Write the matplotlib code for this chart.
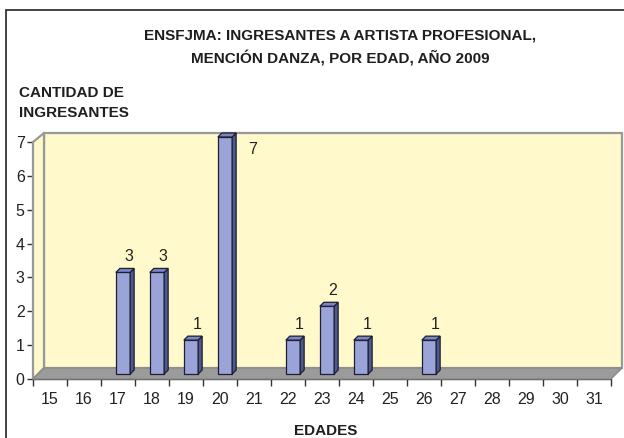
import matplotlib
matplotlib.use("Agg")
import matplotlib.pyplot as plt
from matplotlib.patches import Polygon, Rectangle
from matplotlib.transforms import IdentityTransform
import numpy as np

ages = ["15", "16", "17", "18", "19", "20", "21", "22", "23", "24", "25",
        "26", "27", "28", "29", "30", "31"]
counts = [0, 0, 3, 3, 1, 7, 0, 1, 2, 1, 0, 1, 0, 0, 0, 0, 0]
yticks = [0, 1, 2, 3, 4, 5, 6, 7]
title_l1 = "ENSFJMA: INGRESANTES A ARTISTA PROFESIONAL,"
title_l2 = "MENCIÓN DANZA, POR EDAD, AÑO 2009"
ylab = "CANTIDAD DE\nINGRESANTES"
xlab = "EDADES"

W, H = 624, 438
DPI = 100
fig = plt.figure(figsize=(W / DPI, H / DPI), dpi=DPI)
fig.patch.set_facecolor("white")

narrow = ["Liberation Sans Narrow", "Liberation Sans", "DejaVu Sans"]
reg = ["Liberation Sans", "DejaVu Sans"]

# axes placement in pixels
x0, x1 = 33, 611
yb, yt = 379, 142
ax = fig.add_axes([x0 / W, (H - yb) / H, (x1 - x0) / W, (yb - yt) / H])
ax.set_facecolor("none")
n = len(ages)
ax.set_xlim(-0.5, n - 0.5)
ax.set_ylim(0, max(yticks))
for s in ["top", "right"]:
    ax.spines[s].set_visible(False)
for s in ["left", "bottom"]:
    ax.spines[s].set_color("#333333")
    ax.spines[s].set_linewidth(1.0)
    ax.spines[s].set_zorder(5)

ax.set_yticks(yticks)
ax.set_yticklabels([str(t) for t in yticks], family=reg, fontsize=11.5, color="#222222")
ax.tick_params(axis="y", length=4, width=1, color="#333333", pad=2)
ax.set_xticks(np.arange(-0.5, n, 1.0))
ax.set_xticklabels([])
ax.set_xticks(np.arange(n), minor=True)
ax.set_xticklabels(ages, minor=True, family=reg, fontsize=11.5, color="#222222")
ax.tick_params(axis="x", which="major", length=5, width=1, color="#333333")
ax.tick_params(axis="x", which="minor", length=0, pad=9)

T = ax.transData
dx, dy = 11, 11  # depth offset in pixels


def P(x, y):
    return T.transform((x, y))


# back wall
bl = P(-0.5, 0) + [dx, dy]
tr = P(n - 0.5, max(yticks)) + [dx, dy - 2]
wall = Rectangle(bl, tr[0] - bl[0], tr[1] - bl[1], transform=IdentityTransform(),
                 facecolor="#FFF9CC", edgecolor="#999999", linewidth=1.6, zorder=1)
fig.add_artist(wall)
# left side wall
f0 = P(-0.5, 0)
f1 = P(-0.5, max(yticks))
side = Polygon([f0, f1, f1 + [dx, dy - 2], f0 + [dx, dy]], closed=True,
               transform=IdentityTransform(), facecolor="#FFF9CC",
               edgecolor="#999999", linewidth=1.6, zorder=1.1)
fig.add_artist(side)
# floor
g0 = P(-0.5, 0)
g1 = P(n - 0.5, 0)
floor = Polygon([g0, g1, g1 + [dx, dy], g0 + [dx, dy]], closed=True,
                transform=IdentityTransform(), facecolor="#9B9B9B",
                edgecolor="#8A8A8A", linewidth=1.0, zorder=1.2)
fig.add_artist(floor)

# bars
bw = 0.42
bx, by = 5, 5     # bar placement in depth
ddx, ddy = 4, 4   # bar depth
front_c, side_c, top_c = "#9AA4D8", "#4E5A8E", "#7A86C6"
for i, v in enumerate(counts):
    if v <= 0:
        continue
    a = P(i - bw / 2, 0) + [bx, by]
    b = P(i + bw / 2, 0) + [bx, by]
    c = P(i + bw / 2, v) + [bx, by]
    d = P(i - bw / 2, v) + [bx, by]
    kw = dict(closed=True, transform=IdentityTransform(), edgecolor="#1E1E2E",
              linewidth=0.9, zorder=4)
    fig.add_artist(Polygon([a, b, c, d], facecolor=front_c, **kw))
    fig.add_artist(Polygon([b, b + [ddx, ddy], c + [ddx, ddy], c], facecolor=side_c, **kw))
    fig.add_artist(Polygon([d, c, c + [ddx, ddy], d + [ddx, ddy]], facecolor=top_c, **kw))
    # value label
    top = P(i, v) + [bx, by]
    if v >= max(yticks):
        lx, ly = top[0] + 28, top[1] - 13
    else:
        lx, ly = top[0] + 6, top[1] + 16
    fig.text(lx / W, ly / H, str(v), ha="center", va="center",
             family=reg, fontsize=11.5, color="#222222", zorder=6)

# texts
tkw = dict(family=narrow, fontweight="bold", fontsize=11, color="#1E1E1E")
fig.text(340 / W, 1 - 35 / H, title_l1, ha="center", va="center", **tkw)
fig.text(340 / W, 1 - 58 / H, title_l2, ha="center", va="center", **tkw)
fig.text(19 / W, 1 - 103 / H, ylab, ha="left", va="center", linespacing=1.5, **tkw)
fig.text(326 / W, 1 - 424 / H, xlab, ha="center", va="top", **tkw)

# outer frame (display coords: origin at bottom-left)
frame = Rectangle((6, -20), W + 20, H - 10 + 20, transform=IdentityTransform(),
                  facecolor="none", edgecolor="#222222", linewidth=1.2, zorder=0)
fig.add_artist(frame)

fig.savefig("out.png", dpi=DPI)
